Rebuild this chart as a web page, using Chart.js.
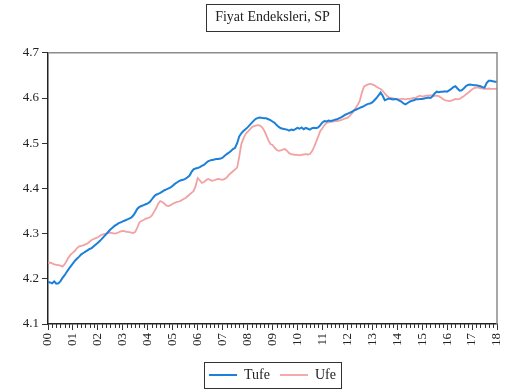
<!DOCTYPE html>
<html>
<head>
<meta charset="utf-8">
<script src="https://cdn.jsdelivr.net/npm/chart.js@4.4.0/dist/chart.umd.min.js"></script>
<style>
  html, body { margin: 0; padding: 0; background: #fff; }
  #wrap { width: 510px; height: 392px; }
</style>
</head>
<body>
<div id="wrap"><canvas id="fiyat"></canvas></div>
<script>
// year tick labels, 2000..2018
const yearLabels = ['00','01','02','03','04','05','06','07','08','09','10','11','12','13','14','15','16','17','18'];

// monthly values, Jan 2000 .. Jan 2018
const tufe = [
  4.193, 4.192, 4.190, 4.194, 4.189, 4.190, 4.195, 4.202, 4.208, 4.215, 4.222, 4.228, // 2000
  4.234, 4.240, 4.245, 4.249, 4.254, 4.257, 4.260, 4.263, 4.266, 4.268, 4.272, 4.276, // 2001
  4.280, 4.284, 4.289, 4.294, 4.299, 4.304, 4.309, 4.313, 4.317, 4.320, 4.323, 4.325, // 2002
  4.327, 4.329, 4.331, 4.333, 4.335, 4.340, 4.347, 4.355, 4.359, 4.361, 4.363, 4.365, // 2003
  4.367, 4.370, 4.376, 4.382, 4.386, 4.388, 4.390, 4.393, 4.396, 4.398, 4.400, 4.402, // 2004
  4.406, 4.410, 4.413, 4.416, 4.418, 4.419, 4.421, 4.424, 4.428, 4.436, 4.442, 4.444, // 2005
  4.445, 4.447, 4.450, 4.452, 4.456, 4.460, 4.462, 4.463, 4.464, 4.465, 4.465, 4.466, // 2006
  4.468, 4.472, 4.476, 4.479, 4.483, 4.487, 4.490, 4.500, 4.515, 4.522, 4.527, 4.531, // 2007
  4.535, 4.540, 4.545, 4.550, 4.554, 4.556, 4.557, 4.556, 4.555, 4.555, 4.553, 4.551, // 2008
  4.548, 4.545, 4.540, 4.536, 4.533, 4.532, 4.531, 4.530, 4.528, 4.530, 4.529, 4.531, // 2009
  4.534, 4.532, 4.535, 4.531, 4.534, 4.532, 4.530, 4.533, 4.534, 4.533, 4.535, 4.540, // 2010
  4.546, 4.549, 4.548, 4.550, 4.549, 4.550, 4.552, 4.553, 4.555, 4.557, 4.560, 4.563, // 2011
  4.565, 4.567, 4.569, 4.572, 4.574, 4.576, 4.578, 4.580, 4.582, 4.585, 4.587, 4.588, // 2012
  4.590, 4.595, 4.600, 4.606, 4.612, 4.605, 4.595, 4.597, 4.599, 4.598, 4.597, 4.598, // 2013
  4.597, 4.594, 4.592, 4.588, 4.586, 4.589, 4.592, 4.594, 4.595, 4.597, 4.597, 4.598, // 2014
  4.598, 4.599, 4.600, 4.601, 4.600, 4.604, 4.610, 4.614, 4.613, 4.614, 4.614, 4.615, // 2015
  4.614, 4.617, 4.620, 4.624, 4.626, 4.621, 4.616, 4.617, 4.621, 4.626, 4.629, 4.630, // 2016
  4.629, 4.628, 4.628, 4.627, 4.626, 4.624, 4.623, 4.633, 4.638, 4.638, 4.637, 4.636, // 2017
  4.636                                                                                // 2018
];

const ufe = [
  4.235, 4.236, 4.234, 4.232, 4.231, 4.230, 4.229, 4.227, 4.232, 4.240, 4.248, 4.254, // 2000
  4.258, 4.262, 4.268, 4.272, 4.273, 4.274, 4.276, 4.278, 4.282, 4.286, 4.288, 4.290, // 2001
  4.292, 4.295, 4.298, 4.299, 4.300, 4.301, 4.302, 4.301, 4.300, 4.301, 4.303, 4.305, // 2002
  4.306, 4.305, 4.304, 4.303, 4.302, 4.301, 4.304, 4.314, 4.325, 4.328, 4.330, 4.333, // 2003
  4.334, 4.336, 4.340, 4.348, 4.356, 4.366, 4.372, 4.370, 4.366, 4.362, 4.361, 4.363, // 2004
  4.366, 4.368, 4.370, 4.371, 4.373, 4.376, 4.378, 4.382, 4.386, 4.390, 4.394, 4.405, // 2005
  4.423, 4.418, 4.412, 4.414, 4.418, 4.421, 4.419, 4.417, 4.418, 4.420, 4.421, 4.420, // 2006
  4.419, 4.421, 4.424, 4.430, 4.434, 4.438, 4.442, 4.446, 4.470, 4.498, 4.510, 4.520, // 2007
  4.525, 4.530, 4.535, 4.538, 4.539, 4.540, 4.539, 4.535, 4.528, 4.518, 4.507, 4.498, // 2008
  4.496, 4.490, 4.485, 4.483, 4.484, 4.486, 4.487, 4.483, 4.478, 4.476, 4.475, 4.474, // 2009
  4.474, 4.473, 4.474, 4.475, 4.476, 4.475, 4.476, 4.482, 4.492, 4.503, 4.515, 4.527, // 2010
  4.533, 4.540, 4.545, 4.546, 4.547, 4.548, 4.549, 4.549, 4.550, 4.551, 4.553, 4.555, // 2011
  4.556, 4.560, 4.565, 4.570, 4.578, 4.585, 4.594, 4.612, 4.625, 4.628, 4.630, 4.631, // 2012
  4.630, 4.628, 4.625, 4.622, 4.620, 4.616, 4.610, 4.605, 4.601, 4.600, 4.599, 4.598, // 2013
  4.598, 4.597, 4.598, 4.598, 4.597, 4.598, 4.598, 4.599, 4.600, 4.601, 4.603, 4.605, // 2014
  4.603, 4.604, 4.605, 4.606, 4.606, 4.606, 4.605, 4.605, 4.604, 4.601, 4.598, 4.595, // 2015
  4.594, 4.593, 4.594, 4.596, 4.598, 4.597, 4.598, 4.601, 4.604, 4.608, 4.611, 4.615, // 2016
  4.619, 4.622, 4.623, 4.623, 4.622, 4.621, 4.620, 4.620, 4.621, 4.620, 4.620, 4.620, // 2017
  4.620                                                                                // 2018
];

// one category per month; only January gets a year label
const months = [];
for (let i = 0; i < tufe.length; i++) {
  months.push(yearLabels[Math.floor(i / 12)] + '-' + String(i % 12 + 1).padStart(2, '0'));
}

const serif = "'Liberation Serif', 'Times New Roman', serif";
Chart.defaults.font.family = serif;
Chart.defaults.color = '#222';

// boxes round the title and legend, grey frame on top/right, short 2-month ticks
const frameBoxes = {
  id: 'frameBoxes',
  afterDraw(chart) {
    const ctx = chart.ctx;
    const a = chart.chartArea;
    const xs = chart.scales.x;
    ctx.save();
    ctx.strokeStyle = '#8c8c8c';
    ctx.lineWidth = 1.5;
    ctx.beginPath();
    ctx.moveTo(a.left, a.top);
    ctx.lineTo(a.right, a.top);
    ctx.lineTo(a.right, a.bottom);
    ctx.stroke();

    // minor ticks every second month
    ctx.strokeStyle = '#333';
    ctx.lineWidth = 1;
    ctx.beginPath();
    for (let i = 0; i < months.length; i++) {
      if (i % 2 !== 0 || i % 12 === 0) continue;
      const px = Math.round(xs.getPixelForTick(i)) + 0.5;
      ctx.moveTo(px, a.bottom);
      ctx.lineTo(px, a.bottom + 4);
    }
    ctx.stroke();

    const t = chart.titleBlock;
    ctx.font = '14px ' + serif;
    const tw = ctx.measureText(t.options.text).width;
    const tcx = (t.left + t.right) / 2;
    const ttop = t.top + t.options.padding.top;
    ctx.strokeStyle = '#333';
    ctx.strokeRect(Math.round(tcx - tw / 2 - 9) + 0.5, Math.round(ttop - 5) + 0.5, Math.round(tw + 18), 27);

    const hb = chart.legend.legendHitBoxes;
    if (hb && hb.length) {
      const l = Math.min(...hb.map(b => b.left));
      const r = Math.max(...hb.map(b => b.left + b.width));
      const top = hb[0].top;
      const h = hb[0].height;
      ctx.strokeRect(Math.round(l - 5) + 0.5, Math.round(top - 6) + 0.5, Math.round(r - l + 10), Math.round(h + 12));
    }
    ctx.restore();
  }
};

const ctx = document.getElementById('fiyat').getContext('2d');
const chart = new Chart(ctx, {
  type: 'line',
  data: {
    labels: months,
    datasets: [
      {
        label: 'Tufe',
        data: tufe,
        borderColor: 'rgb(28, 128, 218)',
        borderWidth: 2,
        pointRadius: 0,
        tension: 0
      },
      {
        label: 'Ufe',
        data: ufe,
        borderColor: 'rgb(242, 162, 162)',
        borderWidth: 1.8,
        pointRadius: 0,
        tension: 0
      }
    ]
  },
  options: {
    responsive: true,
    maintainAspectRatio: false,
    animation: false,
    layout: { padding: { left: 0, right: 13, top: 0, bottom: 0 } },
    plugins: {
      // fullSize false keeps title and legend centred over the plot area
      title: {
        display: true,
        fullSize: false,
        text: 'Fiyat Endeksleri, SP',
        color: '#222',
        font: { size: 14, weight: 'normal' },
        padding: { top: 9, bottom: 27 }
      },
      legend: {
        position: 'bottom',
        fullSize: false,
        labels: {
          usePointStyle: true,
          pointStyle: 'line',
          pointStyleWidth: 28,
          boxHeight: 10,
          padding: 10,
          color: '#222',
          font: { size: 14 }
        }
      },
      tooltip: { enabled: false }
    },
    scales: {
      x: {
        type: 'category',
        border: { color: '#222', width: 1.5 },
        grid: {
          drawOnChartArea: false,
          drawTicks: true,
          tickLength: 6,
          color: c => (c.index % 12 === 0 ? '#333' : 'rgba(0,0,0,0)')
        },
        ticks: {
          autoSkip: false,
          maxRotation: 90,
          minRotation: 90,
          padding: 3,
          font: { size: 13 },
          callback: function (value, index) {
            return index % 12 === 0 ? yearLabels[index / 12] : '';
          }
        },
        afterFit: s => { s.height = 34; s.paddingLeft = 0; s.paddingRight = 0; }
      },
      y: {
        min: 4.1,
        max: 4.7,
        border: { color: '#222', width: 1.5 },
        grid: { drawOnChartArea: false, tickLength: 6, color: '#333' },
        ticks: {
          stepSize: 0.1,
          padding: 3,
          font: { size: 13 },
          callback: v => v.toFixed(1)
        },
        afterFit: s => { s.width = 48; }
      }
    }
  },
  plugins: [frameBoxes]
});
</script>
</body>
</html>
